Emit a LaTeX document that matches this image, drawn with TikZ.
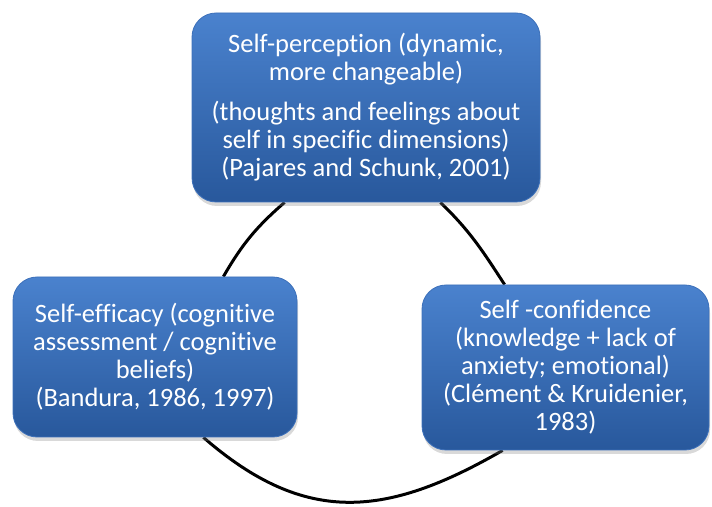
\documentclass[tikz,border=0pt]{standalone}
\usepackage{fontspec}
\setmainfont{Carlito}[Ligatures=NoCommon]
\usetikzlibrary{calc,shadows,backgrounds}
\definecolor{boxtop}{RGB}{74,130,206}
\definecolor{boxmid}{RGB}{56,108,184}
\definecolor{boxbot}{RGB}{40,88,156}
\definecolor{boxrim}{RGB}{60,112,186}
\begin{document}
\begin{tikzpicture}[x=1pt,y=1pt,
    selfbox/.style={rounded corners=24pt,top color=boxtop,middle color=boxmid,bottom color=boxbot,draw=boxrim,line width=0.8pt,text=white,align=center,inner sep=0pt,font=\fontsize{26.5}{28}\selectfont,drop shadow={shadow xshift=1pt,shadow yshift=-4pt,opacity=0.3}},
    ring/.style={line width=3pt,black}]
        \useasboundingbox (0,0) rectangle (712,506);
        \node[selfbox,minimum width=348pt,minimum height=189pt] (P) at (366,398.5) {Self-perception (dynamic,\\ more changeable)\\[12pt] (thoughts and feelings about\\ self in specific dimensions)\\ (Pajares and Schunk, 2001)};
        \node[selfbox,minimum width=284pt,minimum height=160pt] (E) at (155,149) {Self-efficacy (cognitive\\ assessment / cognitive\\ beliefs)\\ (Bandura, 1986, 1997)};
        \node[selfbox,minimum width=287pt,minimum height=165pt] (C) at (565.5,138.5) {Self -confidence\\ (knowledge + lack of\\ anxiety; emotional)\\ (Clément \& Kruidenier,\\ 1983)};
        \begin{scope}[on background layer]
        \draw[ring] ($(P.south west)+(93,0)$) to[out=221,in=60] ($(E.north east)+(-74,0)$);
        \draw[ring] ($(E.south east)+(-94,0)$) to[out=-41,in=210,looseness=1.15] ($(C.south west)+(81,0)$);
        \draw[ring] ($(C.north west)+(83,0)$) to[out=123,in=-44] ($(P.south east)+(-100,0)$);
        \end{scope}
    \end{tikzpicture}
\end{document}
